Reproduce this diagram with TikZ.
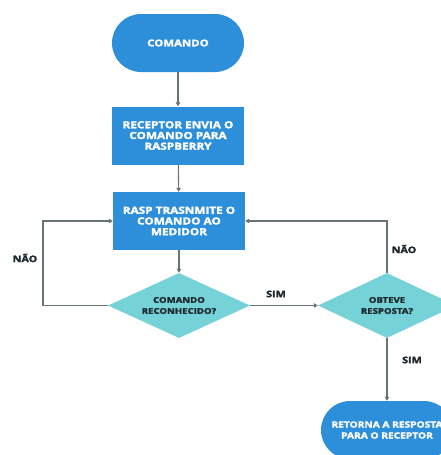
\documentclass[tikz,border=0pt]{standalone}
\usepackage{fontspec}
\setmainfont{Open Sans}[FakeStretch=1.2, BoldFeatures={FakeBold=2.5}]
\usetikzlibrary{shapes.geometric,arrows.meta}
\definecolor{boxblue}{HTML}{2D8FD9}
\definecolor{diateal}{HTML}{75D2D7}
\definecolor{linegray}{HTML}{687377}
\definecolor{txtdark}{HTML}{1F2A30}
\begin{document}
\begin{tikzpicture}[x=1pt,y=-1pt,
 term/.style={fill=boxblue, rounded corners=29pt, minimum width=132pt, minimum height=58pt, text=white, font=\bfseries\fontsize{9.5}{10.7}\selectfont, align=center, inner sep=0pt},
 proc/.style={fill=boxblue, minimum width=132pt, minimum height=58pt, text=white, font=\bfseries\fontsize{9.8}{10.7}\selectfont, align=center, inner sep=0pt},
 decis/.style={diamond, fill=diateal, minimum width=142pt, minimum height=65pt, inner sep=0pt, aspect=2.2, font=\bfseries\fontsize{8}{11}\selectfont, align=center, text=txtdark},
 conn/.style={draw=linegray, line width=1.1pt, -{Triangle[length=4pt,width=4.5pt]}},
 lbl/.style={font=\bfseries\fontsize{9}{10}\selectfont, text=txtdark, inner sep=0pt}]
\useasboundingbox (0,0) rectangle (441,455);
\clip (0,0) rectangle (441,455);
\node[term] (cmd) at (178,43) {COMANDO};
\node[proc] (rec) at (178,135.5) {RECEPTOR ENVIA O\\COMANDO PARA\\RASPBERRY};
\node[proc] (rasp) at (179,221) {RASP TRASNMITE O\\COMANDO AO\\MEDIDOR};
\node[decis] (d1) at (179,305.5) {COMANDO\\RECONHECIDO?};
\node[decis, minimum width=138pt] (d2) at (387,305.5) {OBTEVE\\RESPOSTA?};
\node[term, font=\bfseries\fontsize{8.5}{11}\selectfont] (ret) at (387,430) {RETORNA A RESPOSTA\\PARA O RECEPTOR};
\coordinate (lc) at (43,305.5);
\draw[conn] (cmd) -- (rec);
\draw[conn] (rec) -- (rasp);
\draw[conn] (rasp) -- (d1);
\draw[conn] (d1.west) -- (lc) |- (rasp.west);
\draw[conn] (d1.east) -- (d2.west);
\draw[conn] (d2.north) -- (d2.north |- rasp.east) -- (rasp.east);
\draw[conn] (d2.south) -- (ret.north);
\node[lbl] (l1) at (25,258) {NÃO};
\node[lbl] (l2) at (276,294) {SIM};
\node[lbl] (l3) at (404,249) {NÃO};
\node[lbl] (l4) at (412,360) {SIM};
\end{tikzpicture}
\end{document}
